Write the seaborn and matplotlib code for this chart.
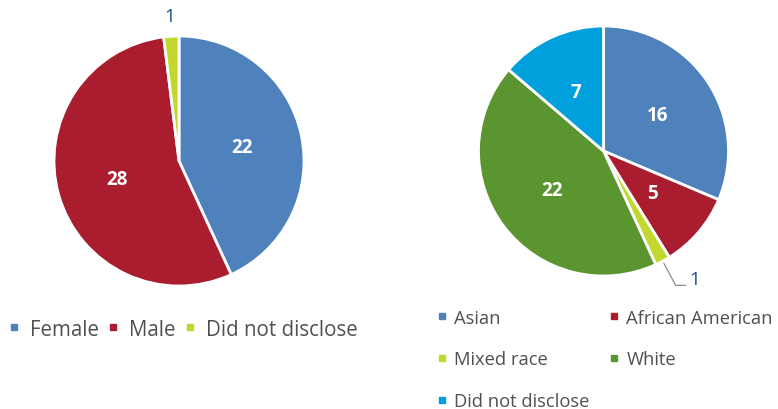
import numpy as np
import seaborn as sns
import matplotlib.pyplot as plt
from matplotlib.lines import Line2D

sns.set_style("white")
plt.rcParams['font.family'] = ['Open Sans', 'DejaVu Sans']

# data
gender_labels = ["Female", "Male", "Did not disclose"]
gender_counts = [22, 28, 1]
gender_colors = ["#4F81BD", "#A91D2E", "#C3D82E"]

race_labels = ["Asian", "African American", "Mixed race", "White", "Did not disclose"]
race_counts = [16, 5, 1, 22, 7]
race_colors = ["#4F81BD", "#A91D2E", "#C3D82E", "#5B9530", "#00A0DC"]

label_blue = "#1F4E8C"
legend_grey = "#505050"

fig = plt.figure(figsize=(7.78, 4.10), dpi=100)
ax1 = fig.add_axes([(179 - 125) / 778, (410 - 162 - 125) / 410, 250 / 778, 250 / 410])
ax2 = fig.add_axes([(603.5 - 125) / 778, (410 - 152 - 125) / 410, 250 / 778, 250 / 410])


def draw_pie(ax, counts, colors):
    wedges, _ = ax.pie(counts, colors=colors, startangle=90, counterclock=False,
                       wedgeprops=dict(edgecolor="white", linewidth=2))
    ax.set_xlim(-1, 1)
    ax.set_ylim(-1, 1)
    ax.set_aspect("equal")
    for w, n in zip(wedges, counts):
        if n > 1:
            a = np.deg2rad((w.theta1 + w.theta2) / 2)
            ax.text(0.52 * np.cos(a), 0.52 * np.sin(a), str(n), color="white",
                    fontsize=13.5, fontweight="bold", ha="center", va="center")
    return wedges


def square(c):
    return Line2D([], [], marker="s", markersize=4.6, color=c, linestyle="none")


w1 = draw_pie(ax1, gender_counts, gender_colors)
w2 = draw_pie(ax2, race_counts, race_colors)

# small slice labels outside
a = np.deg2rad((w1[2].theta1 + w1[2].theta2) / 2)
ax1.text(1.16 * np.cos(a), 1.16 * np.sin(a), str(gender_counts[2]), color=label_blue,
         fontsize=13.5, ha="center", va="center")

a = np.deg2rad((w2[2].theta1 + w2[2].theta2) / 2)
p0 = np.array([np.cos(a), np.sin(a)]) * 1.02
p1 = np.array([np.cos(a), np.sin(a)]) * 1.22
p2 = p1 + np.array([0.08, 0])
ax2.plot([p0[0], p1[0], p2[0]], [p0[1], p1[1], p2[1]], color="#8C8C8C", lw=0.9, clip_on=False)
ax2.text(p2[0] + 0.03, p2[1] + 0.05, str(race_counts[2]), color=label_blue,
         fontsize=13.5, ha="left", va="center")

# legends
h1 = [square(c) for c in gender_colors]
fig.legend(h1, gender_labels, loc="center left", bbox_to_anchor=(8 / 778, 1 - 330 / 410),
           ncol=3, frameon=False, handlelength=0.6, handletextpad=0.45,
           columnspacing=0.42, fontsize=14.8, labelcolor=legend_grey, borderpad=0, borderaxespad=0)

order = [0, 2, 4, 1, 3]
h2 = [square(race_colors[i]) for i in order]
fig.legend(h2, [race_labels[i] for i in order], loc="center left",
           bbox_to_anchor=(436 / 778, 1 - 360.5 / 410), ncol=2, frameon=False,
           handlelength=0.6, handletextpad=0.4, columnspacing=1.0,
           labelspacing=1.3, fontsize=13.2, labelcolor=legend_grey, borderpad=0, borderaxespad=0)

fig.savefig("out.png", dpi=100)
